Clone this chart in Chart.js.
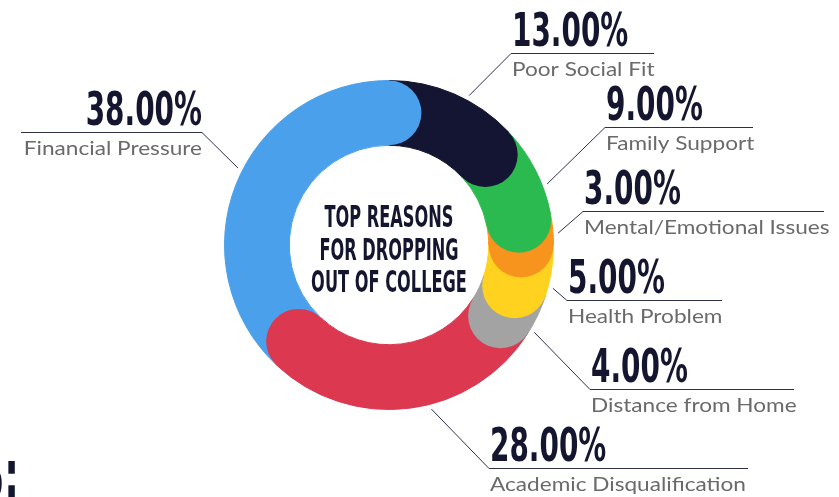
<!DOCTYPE html>
<html>
<head>
<meta charset="utf-8">
<script src="https://cdn.jsdelivr.net/npm/chart.js@4"></script>
<style>
  html, body { margin: 0; padding: 0; background: #ffffff; }
  #wrap { width: 839px; height: 497px; position: relative; overflow: hidden; }
</style>
</head>
<body>
<div id="wrap"><canvas id="chartRazones" width="839" height="497"></canvas></div>
<script>
// ===== DATOS =====
const categorias = ['Poor Social Fit', 'Family Support', 'Mental/Emotional Issues', 'Health Problem',
                    'Distance from Home', 'Academic Disqualification', 'Financial Pressure'];
const porcentajes = [13, 9, 3, 5, 4, 28, 38];
const colores = ['#131532', '#2bba4f', '#f7941d', '#ffd220', '#a3a3a3', '#dc3951', '#4aa0ea'];
const tituloCentro = ['TOP REASONS', 'FOR DROPPING', 'OUT OF COLLEGE'];

// ===== LAYOUT DE ETIQUETAS (codo de la linea, fin de la linea, desfase angular) =====
const etiquetas = [
    { x: 511, y: 53,  fin: 654, lado: 'der', desfase: 4.8 },
    { x: 605, y: 127, fin: 753, lado: 'der', desfase: 5.9 },
    { x: 583, y: 211, fin: 824, lado: 'der', desfase: 1.4 },
    { x: 567, y: 300, fin: 722, lado: 'der', desfase: 5.8 },
    { x: 590, y: 389, fin: 794, lado: 'der', desfase: 5.8 },
    { x: 489, y: 468, fin: 748, lado: 'der', desfase: -7.3 },
    { x: 202, y: 132, fin: 21,  lado: 'izq', desfase: 5.4 }
];

const NAVY = '#14162f';
const FAMILIA_COND = "'Liberation Sans Narrow', 'DejaVu Sans Condensed', sans-serif";
const ESCALA_PCT = 0.675;
const ESCALA_CENTRO = 0.6;
const ESCALA_SUB = 1.19;

function textoEscalado(ctx, texto, x, y, font, escala, align) {
    ctx.save();
    ctx.font = font;
    const w = ctx.measureText(texto).width * escala;
    let x0 = x;
    if (align === 'right') x0 = x - w;
    if (align === 'center') x0 = x - w / 2;
    ctx.translate(x0, y);
    ctx.scale(escala, 1);
    ctx.textAlign = 'left';
    ctx.textBaseline = 'alphabetic';
    ctx.fillText(texto, 0, 0);
    ctx.restore();
}

// ===== PLUGIN: extremos redondeados, etiquetas y texto central =====
const pluginRedondeo = {
    id: 'redondeo',
    afterDatasetsDraw(chart) {
        const ctx = chart.ctx;
        const arcos = chart.getDatasetMeta(0).data;

        // Extremos redondeados (orden inverso: cada uno tapa el inicio del siguiente)
        for (let i = arcos.length - 1; i >= 0; i--) {
            const a = arcos[i];
            const rMedio = (a.innerRadius + a.outerRadius) / 2;
            const rCap = (a.outerRadius - a.innerRadius) / 2;
            ctx.beginPath();
            ctx.arc(a.x + rMedio * Math.cos(a.endAngle), a.y + rMedio * Math.sin(a.endAngle), rCap, 0, Math.PI * 2);
            ctx.fillStyle = colores[i];
            ctx.fill();
        }

        // Etiquetas con lineas guia
        arcos.forEach((a, i) => {
            const e = etiquetas[i];
            const ang = (a.startAngle + a.endAngle) / 2 + e.desfase * Math.PI / 180;
            const r = a.outerRadius + 5;
            const px = a.x + r * Math.cos(ang);
            const py = a.y + r * Math.sin(ang);

            ctx.save();
            ctx.strokeStyle = '#2e3048';
            ctx.lineWidth = 1;
            ctx.beginPath();
            ctx.moveTo(px, py);
            ctx.lineTo(e.x, e.y + 0.5);
            ctx.lineTo(e.fin, e.y + 0.5);
            ctx.stroke();
            ctx.restore();

            const align = e.lado === 'der' ? 'left' : 'right';
            const tx = e.lado === 'der' ? e.x + 1 : e.x;

            ctx.fillStyle = NAVY;
            textoEscalado(ctx, porcentajes[i].toFixed(2) + '%', tx, e.y - 7,
                'bold 46px ' + FAMILIA_COND, ESCALA_PCT, align);

            ctx.fillStyle = '#6a6a6a';
            textoEscalado(ctx, categorias[i], tx, e.y + 23,
                "19px Lato, 'Noto Sans', sans-serif", ESCALA_SUB, align);
        });

        // Texto central
        const cx = arcos[0].x;
        const cy = arcos[0].y;
        ctx.fillStyle = NAVY;
        tituloCentro.forEach((linea, k) => {
            textoEscalado(ctx, linea, cx, cy - 18 + k * 32.5,
                'bold 30px ' + FAMILIA_COND, ESCALA_CENTRO, 'center');
        });

        // Fragmento del titulo cortado
        textoEscalado(ctx, 'S:', 19, 498, 'bold 68px ' + FAMILIA_COND, 0.6, 'right');
    }
};

// ===== GRAFICO =====
const ctxRazones = document.getElementById('chartRazones').getContext('2d');
window.chartRazones = new Chart(ctxRazones, {
    type: 'doughnut',
    data: {
        labels: categorias,
        datasets: [{
            data: porcentajes,
            backgroundColor: colores,
            borderColor: colores,
            borderWidth: 1
        }]
    },
    options: {
        responsive: false,
        animation: false,
        events: [],
        cutout: '60.6%',
        layout: { padding: { left: 224, right: 285, top: 80, bottom: 87 } },
        plugins: {
            legend: { display: false },
            tooltip: { enabled: false }
        }
    },
    plugins: [pluginRedondeo]
});
</script>
</body>
</html>
